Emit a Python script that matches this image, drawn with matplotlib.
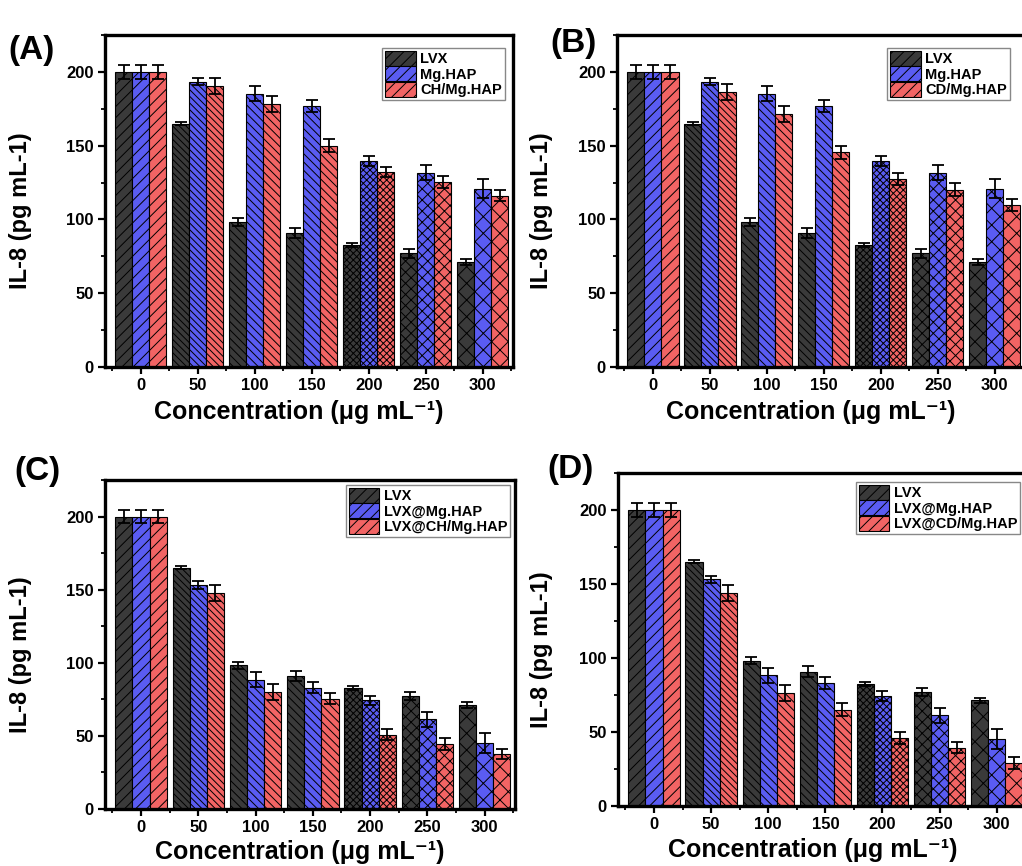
import numpy as np
import matplotlib
matplotlib.use('Agg')
import matplotlib.pyplot as plt
from matplotlib.patches import Patch
from matplotlib.ticker import MultipleLocator, FixedLocator

plt.rcParams['font.family'] = ['Liberation Sans', 'DejaVu Sans']
plt.rcParams['font.weight'] = 'bold'
plt.rcParams['axes.labelweight'] = 'bold'
plt.rcParams['hatch.linewidth'] = 0.7

# Data
conc = ['0', '50', '100', '150', '200', '250', '300']

lvx = [200, 165, 98.3, 90.8, 82.5, 77.0, 71.3]
lvx_err = [4.5, 1.0, 2.5, 3.5, 1.3, 2.8, 2.0]

mghap = [200, 193.4, 185.3, 176.8, 139.9, 131.7, 120.9]
mghap_err = [4.5, 2.3, 5.0, 4.3, 3.4, 5.2, 6.6]

ch_mghap = [200, 190.5, 178.2, 150.1, 132.4, 125.4, 116.1]
ch_mghap_err = [4.5, 5.4, 5.7, 4.2, 3.4, 4.2, 3.8]

cd_mghap = [200, 186.4, 171.4, 145.5, 127.3, 120.2, 110.0]
cd_mghap_err = [4.5, 5.6, 5.5, 4.4, 3.9, 4.3, 4.0]

lvx_mghap = [200, 153.2, 88.4, 83.0, 74.3, 61.4, 45.2]
lvx_mghap_err = [4.5, 2.5, 5.1, 4.0, 3.3, 5.1, 6.7]

lvx_ch_mghap = [200, 147.7, 80.0, 75.5, 50.9, 44.5, 37.5]
lvx_ch_mghap_err = [4.5, 5.6, 5.7, 4.0, 3.6, 4.3, 3.6]

lvx_cd_mghap = [200, 144.1, 76.4, 65.0, 45.7, 39.5, 29.1]
lvx_cd_mghap_err = [4.5, 5.5, 5.5, 4.3, 4.0, 3.8, 4.0]

colors = ['#3a3a3a', '#5a5cf2', '#f26464']
group_hatch = ['///', '\\\\\\\\\\', '\\\\\\\\', '\\\\\\\\', 'xxxxx', 'xxx', 'xx']

panels = [
    ('(A)', [lvx, mghap, ch_mghap], [lvx_err, mghap_err, ch_mghap_err],
     ['LVX', 'Mg.HAP', 'CH/Mg.HAP']),
    ('(B)', [lvx, mghap, cd_mghap], [lvx_err, mghap_err, cd_mghap_err],
     ['LVX', 'Mg.HAP', 'CD/Mg.HAP']),
    ('(C)', [lvx, lvx_mghap, lvx_ch_mghap], [lvx_err, lvx_mghap_err, lvx_ch_mghap_err],
     ['LVX', 'LVX@Mg.HAP', 'LVX@CH/Mg.HAP']),
    ('(D)', [lvx, lvx_mghap, lvx_cd_mghap], [lvx_err, lvx_mghap_err, lvx_cd_mghap_err],
     ['LVX', 'LVX@Mg.HAP', 'LVX@CD/Mg.HAP']),
]

# layout (figure fractions)
rects = [[0.1027, 0.5762, 0.3992, 0.3834],
         [0.6037, 0.5762, 0.3992, 0.3834],
         [0.1027, 0.0658, 0.4012, 0.3800],
         [0.6047, 0.0693, 0.4002, 0.3845]]
ylabel_x = [-0.179, -0.157, -0.178, -0.159]
xlabel_y = [-0.10, -0.10, -0.095, -0.095]
leg_anchor = [(0.98, 0.961), (0.963, 0.961), (0.988, 0.985), (0.983, 0.973)]
tag_xy = [(0.031, 0.942), (0.561, 0.950), (0.037, 0.455), (0.558, 0.458)]

fig = plt.figure(figsize=(10.22, 8.66), dpi=100)
x = np.arange(len(conc))
w = 0.3

for k, (tag, series, errs, labels) in enumerate(panels):
    ax = fig.add_axes(rects[k])
    for j in range(3):
        bars = ax.bar(x + (j - 1) * w, series[j], w, color=colors[j],
                      edgecolor='black', linewidth=0.8, zorder=2)
        for b, h in zip(bars, group_hatch):
            b.set_hatch(h)
        ax.errorbar(x + (j - 1) * w, series[j], yerr=errs[j], fmt='none',
                    ecolor='black', elinewidth=1.3, capsize=4.5, capthick=1.3, zorder=3)

    ax.set_xlim(-0.63, 6.53)
    ax.set_ylim(0, 225)
    ax.set_xticks(x)
    ax.set_xticklabels(conc)
    ax.xaxis.set_minor_locator(FixedLocator(np.arange(-0.5, 7, 1)))
    ax.yaxis.set_major_locator(MultipleLocator(50))
    ax.yaxis.set_minor_locator(MultipleLocator(25))
    ax.tick_params(axis='both', which='major', direction='out', length=5, width=1.6,
                   labelsize=12, pad=3)
    ax.tick_params(axis='both', which='minor', direction='out', length=3, width=1.3)
    ax.tick_params(axis='y', which='both', right=False)
    ax.tick_params(axis='x', which='both', top=False)
    for s in ax.spines.values():
        s.set_linewidth(2.4)

    ax.set_ylabel('IL-8 (pg mL-1)', fontsize=17)
    ax.yaxis.set_label_coords(ylabel_x[k], 0.47)
    ax.set_xlabel('Concentration (μg mL⁻¹)', fontsize=18)
    ax.xaxis.set_label_coords(0.475, xlabel_y[k])

    handles = [Patch(facecolor=colors[j], edgecolor='black', hatch='///', linewidth=0.8)
               for j in range(3)]
    leg = ax.legend(handles, labels, loc='upper right', bbox_to_anchor=leg_anchor[k],
                    borderaxespad=0, fontsize=10.5, handlelength=2.1, handleheight=1.2,
                    labelspacing=0.0, handletextpad=0.3, borderpad=0.2,
                    fancybox=False, framealpha=1)
    leg.get_frame().set_edgecolor('#888888')
    leg.get_frame().set_linewidth(1.0)

    fig.text(tag_xy[k][0], tag_xy[k][1], tag, fontsize=24, fontweight='bold',
             ha='center', va='center')

fig.savefig('out.png', dpi=100)
